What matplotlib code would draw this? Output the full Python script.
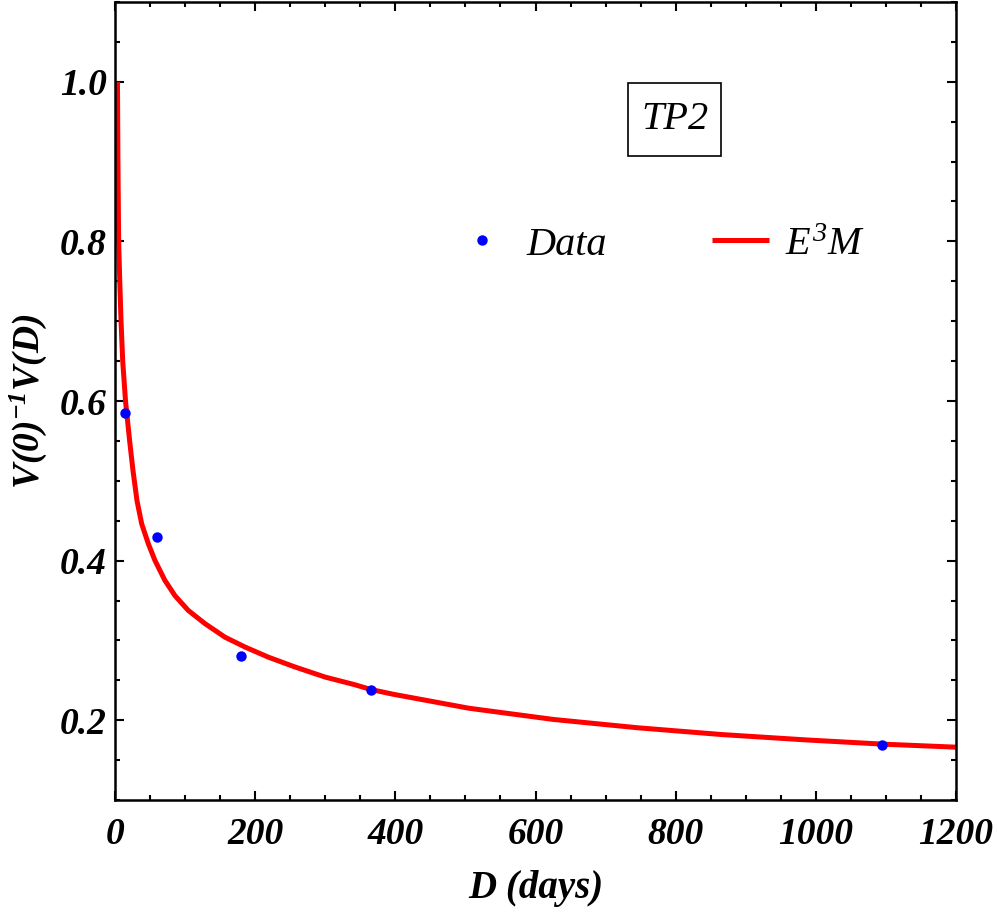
import matplotlib
matplotlib.use("Agg")
import matplotlib.pyplot as plt
from matplotlib.ticker import MultipleLocator, FixedLocator
from matplotlib.patches import Rectangle

# ---- data ----
data_days = [14, 60, 180, 365, 1095]
data_ratio = [0.585, 0.430, 0.280, 0.2375, 0.169]

curve_days = [3.5, 4.2, 5.2, 6.8, 8.6, 11.0, 15.0, 20.9, 25.7, 31.4, 38.1, 47.6,
              57.1, 71.3, 85.6, 104.6, 128.4, 157, 185.5, 218.8, 256.8, 300, 342,
              365, 397, 505, 625, 746, 866, 986, 1098, 1200]
curve_ratio = [1.0, 0.9, 0.8, 0.75, 0.70, 0.65, 0.60, 0.55, 0.5125, 0.475, 0.446, 0.421,
               0.40, 0.375, 0.356, 0.3375, 0.321, 0.304, 0.2917, 0.279, 0.2667, 0.254, 0.2445,
               0.2385, 0.2325, 0.215, 0.201, 0.1905, 0.182, 0.1753, 0.1699, 0.1662]

x_major = [0, 200, 400, 600, 800, 1000, 1200]
x_labels = ["0", "200", "400", "600", "800", "1000", "1200"]
y_major = [0.2, 0.4, 0.6, 0.8, 1.0]
y_labels = ["0.2", "0.4", "0.6", "0.8", "1.0"]

series_labels = ["Data", r"$E^3M$"]
panel_label = "TP2"

# ---- style ----
plt.rcParams["font.family"] = ["Liberation Serif", "DejaVu Serif"]
plt.rcParams["mathtext.fontset"] = "custom"
plt.rcParams["mathtext.rm"] = "Liberation Serif:italic"
plt.rcParams["mathtext.it"] = "Liberation Serif:italic"
plt.rcParams["mathtext.bf"] = "Liberation Serif:bold:italic"

fig = plt.figure(figsize=(9.97, 9.13), dpi=100)
ax = fig.add_axes([115 / 997, 1 - 800 / 913, 841 / 997, 798 / 913])

ax.plot(data_days, data_ratio, "o", color="#0000ff", markersize=7.5,
        markeredgewidth=0, label=series_labels[0], zorder=3)
ax.plot(curve_days, curve_ratio, "-", color="#ff0000", linewidth=3.6,
        label=series_labels[1], zorder=2, solid_capstyle="butt", solid_joinstyle="round")

ax.set_xlim(0, 1200)
ax.set_ylim(0.1, 1.1)

ax.xaxis.set_major_locator(FixedLocator(x_major))
ax.xaxis.set_minor_locator(MultipleLocator(50))
ax.yaxis.set_major_locator(FixedLocator(y_major))
ax.yaxis.set_minor_locator(MultipleLocator(0.05))
ax.set_xticklabels(x_labels)
ax.set_yticklabels(y_labels)

for lab in ax.get_xticklabels() + ax.get_yticklabels():
    lab.set_fontfamily("Liberation Serif")
    lab.set_fontweight("bold")
    lab.set_fontstyle("italic")
    lab.set_fontsize(27)

ax.tick_params(which="both", direction="in", top=True, right=True, width=1.5, color="black")
ax.tick_params(which="major", length=6.5)
ax.tick_params(which="minor", length=3.6)
ax.tick_params(axis="x", which="major", pad=12)
ax.tick_params(axis="y", which="major", pad=6)

for sp in ax.spines.values():
    sp.set_linewidth(1.8)

ax.set_xlabel("D (days)", fontsize=28, fontweight="bold", fontstyle="italic", labelpad=13)
ax.set_ylabel(r"$\mathbf{V(0)^{-1}V(D)}$", fontsize=27, labelpad=8)

leg = ax.legend(loc="center left", bbox_to_anchor=(0.402, 0.6955), ncol=2,
                frameon=False, fontsize=29, handlelength=1.42, handletextpad=0.4,
                columnspacing=2.6, borderpad=0, borderaxespad=0, markerscale=1.0)
for t in leg.get_texts():
    t.set_fontstyle("italic")

ax.text(0.6653, 0.8528, panel_label, transform=ax.transAxes, fontsize=29,
        fontstyle="italic", ha="center", va="center")
ax.add_patch(Rectangle((0.61, 0.807), 0.1106, 0.0915, transform=ax.transAxes,
                       facecolor="none", edgecolor="black", linewidth=1.2))

fig.savefig("out.png", dpi=100)
